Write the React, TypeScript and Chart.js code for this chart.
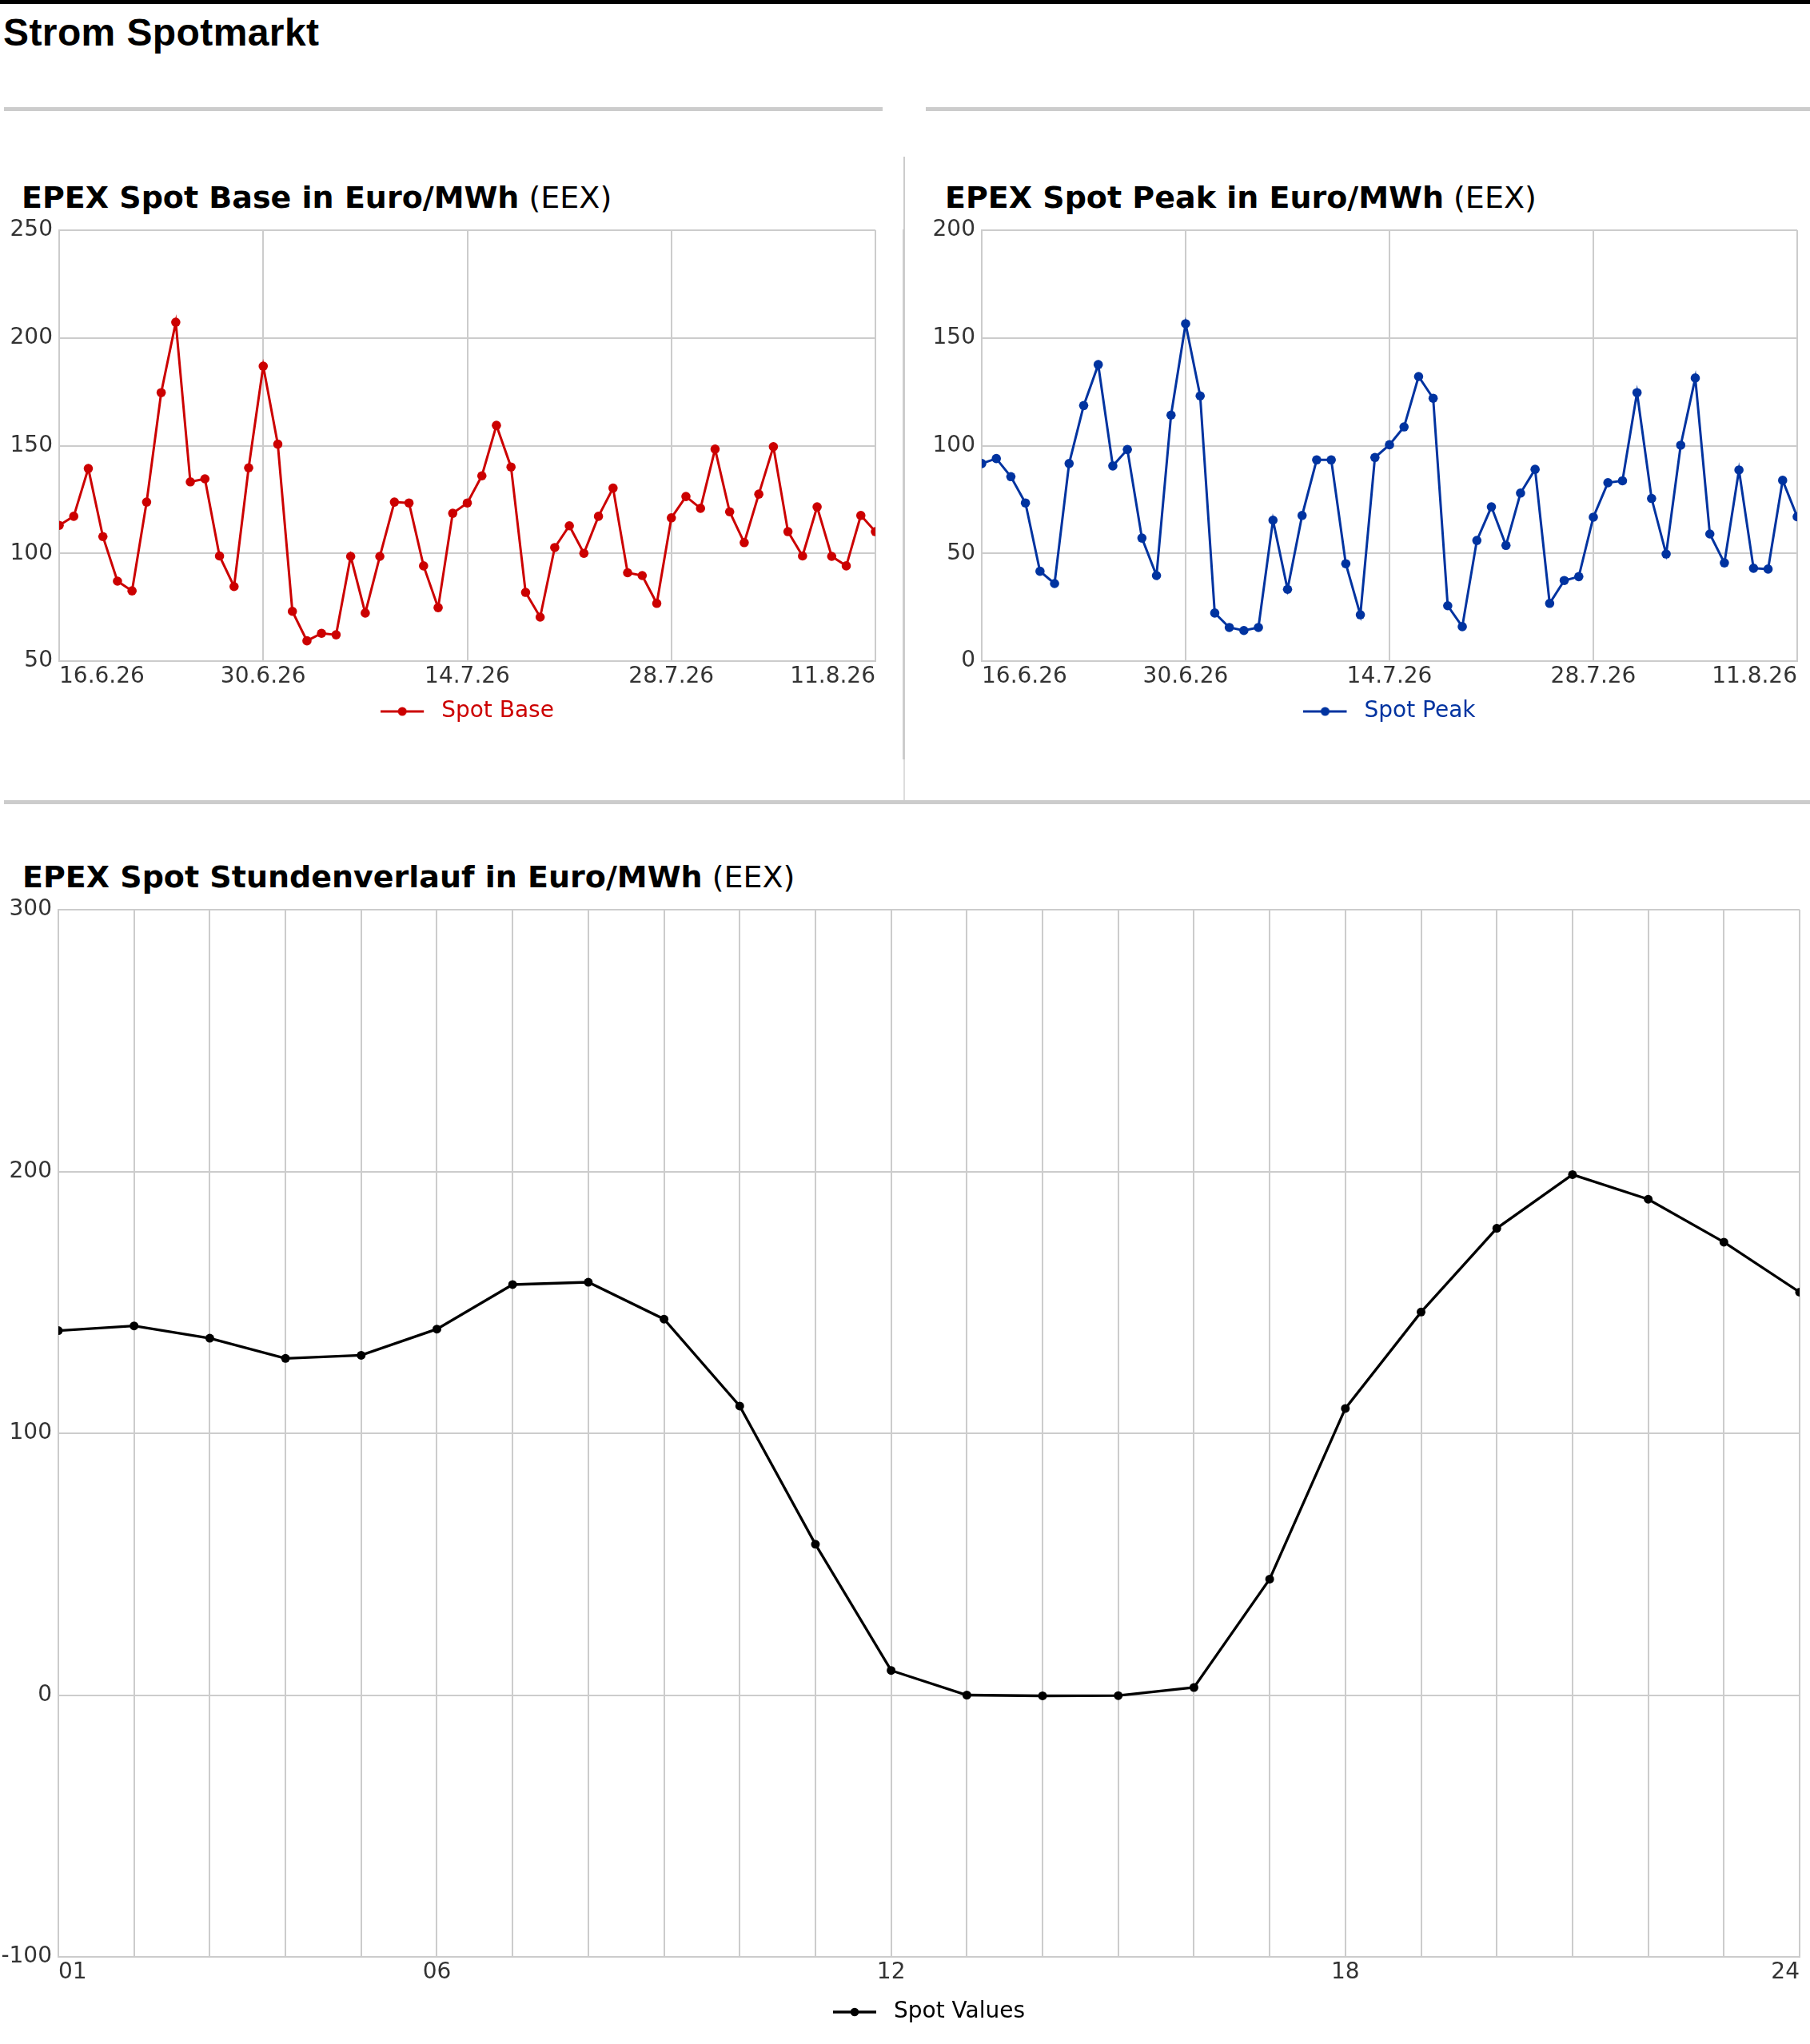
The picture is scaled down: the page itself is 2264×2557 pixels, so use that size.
import React, { useEffect, useRef } from "react";
import { Chart, registerables } from "chart.js";

Chart.register(...registerables);

Chart.defaults.font.family = "DejaVu Sans";
Chart.defaults.font.size = 28;
Chart.defaults.color = "#333";

// days shown in the two daily charts
const days = [
  "16.6.26", "17.6.26", "18.6.26", "19.6.26", "20.6.26", "21.6.26", "22.6.26",
  "23.6.26", "24.6.26", "25.6.26", "26.6.26", "27.6.26", "28.6.26", "29.6.26",
  "30.6.26", "1.7.26", "2.7.26", "3.7.26", "4.7.26", "5.7.26", "6.7.26",
  "7.7.26", "8.7.26", "9.7.26", "10.7.26", "11.7.26", "12.7.26", "13.7.26",
  "14.7.26", "15.7.26", "16.7.26", "17.7.26", "18.7.26", "19.7.26", "20.7.26",
  "21.7.26", "22.7.26", "23.7.26", "24.7.26", "25.7.26", "26.7.26", "27.7.26",
  "28.7.26", "29.7.26", "30.7.26", "31.7.26", "1.8.26", "2.8.26", "3.8.26",
  "4.8.26", "5.8.26", "6.8.26", "7.8.26", "8.8.26", "9.8.26", "10.8.26",
  "11.8.26",
];
const dayTicks = ["16.6.26", "30.6.26", "14.7.26", "28.7.26", "11.8.26"];

const spotBase = [
  113.0, 117.2, 139.4, 107.8, 87.1, 82.6, 123.8, 174.6, 207.3, 133.2,
  134.6, 98.8, 84.6, 139.7, 186.9, 150.7, 73.1, 59.4, 62.9, 62.2,
  98.6, 72.3, 98.6, 123.8, 123.4, 94.2, 74.8, 118.6, 123.4, 136.0,
  159.4, 140.1, 81.9, 70.4, 102.7, 112.8, 100.0, 117.2, 130.3, 91.0,
  89.7, 76.8, 116.5, 126.4, 120.9, 148.4, 119.3, 105.0, 127.5, 149.5,
  110.1, 98.8, 121.6, 98.6, 94.2, 117.6, 110.1,
];

const spotPeak = [
  91.7, 94.0, 85.6, 73.4, 41.7, 36.0, 91.7, 118.6, 137.6, 90.6,
  98.2, 57.1, 39.7, 114.2, 156.6, 123.1, 22.3, 15.6, 14.2, 15.6,
  65.4, 33.3, 67.6, 93.4, 93.4, 45.2, 21.5, 94.5, 100.4, 108.7,
  132.1, 122.0, 25.7, 16.0, 56.0, 71.6, 53.7, 78.0, 89.0, 26.8,
  37.4, 39.2, 66.8, 82.8, 83.7, 124.6, 75.5, 49.7, 100.2, 131.4,
  59.0, 45.6, 88.7, 43.1, 42.7, 83.9, 67.0,
];

const hours = [
  "01", "02", "03", "04", "05", "06", "07", "08", "09", "10", "11", "12",
  "13", "14", "15", "16", "17", "18", "19", "20", "21", "22", "23", "24",
];
const hourTicks = ["01", "06", "12", "18", "24"];

const spotValues = [
  139.2, 141.0, 136.3, 128.6, 129.8, 139.8, 156.8, 157.7, 143.6, 110.4,
  57.6, 9.4, 0.0, -0.3, -0.2, 2.9, 44.3, 109.5, 146.3, 178.3,
  198.8, 189.4, 173.0, 153.9,
];

const GRID = "#cccccc";

// line with a dot in the middle, used as legend symbol
function legendIcon(color, dot, width) {
  const c = document.createElement("canvas");
  c.width = 62;
  c.height = 14;
  const g = c.getContext("2d");
  g.strokeStyle = color;
  g.lineWidth = width;
  g.beginPath();
  g.moveTo(0, 7);
  g.lineTo(54, 7);
  g.stroke();
  g.fillStyle = color;
  g.beginPath();
  g.arc(27, 7, dot, 0, Math.PI * 2);
  g.fill();
  return c;
}

const LineChart = ({
  labels,
  values,
  label,
  color,
  ticks,
  showAllGrid,
  min,
  max,
  step,
  yWidth,
  xHeight,
  padding,
  lineWidth,
  pointRadius,
  legendDot,
  style,
}) => {
  const chartRef = useRef(null);
  const chartInstanceRef = useRef(null);

  useEffect(() => {
    if (!chartRef.current) return;
    if (chartInstanceRef.current) chartInstanceRef.current.destroy();

    chartInstanceRef.current = new Chart(chartRef.current, {
      type: "line",
      data: {
        labels,
        datasets: [
          {
            label,
            data: values,
            borderColor: color,
            backgroundColor: color,
            borderWidth: lineWidth,
            pointRadius,
            pointBorderWidth: 0,
            pointBackgroundColor: color,
            tension: 0,
            fill: false,
            clip: 0,
          },
        ],
      },
      options: {
        animation: false,
        responsive: true,
        maintainAspectRatio: false,
        layout: { padding },
        plugins: {
          legend: {
            position: "bottom",
            fullSize: false,
            labels: {
              usePointStyle: true,
              pointStyle: legendIcon(color, legendDot, lineWidth),
              pointStyleWidth: 62,
              color,
              padding: 10,
              font: { size: 28 },
            },
          },
          tooltip: { enabled: false },
        },
        scales: {
          x: {
            grid: {
              drawTicks: false,
              lineWidth: 2,
              color: (ctx) =>
                showAllGrid || ticks.includes(labels[ctx.index]) ? GRID : "rgba(0,0,0,0)",
            },
            border: { color: GRID, width: 2 },
            ticks: {
              autoSkip: false,
              maxRotation: 0,
              minRotation: 0,
              align: "inner",
              padding: 3,
              callback: (v, i) => (ticks.includes(labels[i]) ? labels[i] : ""),
            },
            afterFit: (scale) => {
              scale.height = xHeight;
            },
          },
          y: {
            min,
            max,
            grid: { drawTicks: false, lineWidth: 2, color: GRID },
            border: { color: GRID, width: 2 },
            ticks: { stepSize: step, padding: 8 },
            afterFit: (scale) => {
              scale.width = yWidth;
            },
          },
        },
      },
    });

    return () => {
      if (chartInstanceRef.current) {
        chartInstanceRef.current.destroy();
        chartInstanceRef.current = null;
      }
    };
  }, []);

  return (
    <div style={{ position: "absolute", ...style }}>
      <canvas ref={chartRef} />
    </div>
  );
};

const titleStyle = {
  position: "absolute",
  fontFamily: "DejaVu Sans",
  fontSize: 38,
  lineHeight: 1,
  whiteSpace: "nowrap",
  color: "#000",
};

const bar = (left, top, width, height, background = GRID) => (
  <div style={{ position: "absolute", left, top, width, height, background }} />
);

export default function App() {
  return (
    <div
      style={{
        position: "absolute",
        left: 0,
        top: 0,
        width: 2264,
        height: 2557,
        overflow: "hidden",
        background: "#fff",
      }}
    >
      {bar(0, 0, 2264, 5, "#000")}
      <div
        style={{
          position: "absolute",
          left: 4,
          top: 17,
          fontFamily: "Liberation Sans",
          fontWeight: "bold",
          fontSize: 48,
          letterSpacing: 0.4,
          lineHeight: 1,
          whiteSpace: "nowrap",
        }}
      >
        Strom Spotmarkt
      </div>

      {bar(5, 134, 1099, 5)}
      {bar(1158, 134, 1106, 5)}
      {bar(1130, 196, 2, 91)}
      {bar(1129, 287, 3, 663)}
      {bar(1130, 950, 2, 51, "#dddddd")}
      {bar(5, 1001, 2259, 5)}

      <div style={{ ...titleStyle, left: 27, top: 228 }}>
        <b>EPEX Spot Base in Euro/MWh</b> (EEX)
      </div>
      <div style={{ ...titleStyle, left: 1182, top: 228 }}>
        <b>EPEX Spot Peak in Euro/MWh</b> (EEX)
      </div>
      <div style={{ ...titleStyle, left: 28, top: 1078 }}>
        <b>EPEX Spot Stundenverlauf in Euro/MWh</b> (EEX)
      </div>

      <LineChart
        labels={days}
        values={spotBase}
        label="Spot Base"
        color="#cc0000"
        ticks={dayTicks}
        showAllGrid={false}
        min={50}
        max={250}
        step={50}
        yWidth={74}
        xHeight={39}
        padding={{ top: 28, right: 15, bottom: 36, left: 0 }}
        lineWidth={3}
        pointRadius={5.8}
        legendDot={5.5}
        style={{ left: 0, top: 260, width: 1110, height: 690 }}
      />
      <LineChart
        labels={days}
        values={spotPeak}
        label="Spot Peak"
        color="#0033a0"
        ticks={dayTicks}
        showAllGrid={false}
        min={0}
        max={200}
        step={50}
        yWidth={74}
        xHeight={39}
        padding={{ top: 28, right: 16, bottom: 36, left: 0 }}
        lineWidth={3}
        pointRadius={5.8}
        legendDot={5.5}
        style={{ left: 1154, top: 260, width: 1110, height: 690 }}
      />
      <LineChart
        labels={hours}
        values={spotValues}
        label="Spot Values"
        color="#000000"
        ticks={hourTicks}
        showAllGrid={true}
        min={-100}
        max={300}
        step={100}
        yWidth={73}
        xHeight={45}
        padding={{ top: 28, right: 13, bottom: 16, left: 0 }}
        lineWidth={3.3}
        pointRadius={5.5}
        legendDot={5.3}
        style={{ left: 0, top: 1110, width: 2264, height: 1447 }}
      />
    </div>
  );
}
